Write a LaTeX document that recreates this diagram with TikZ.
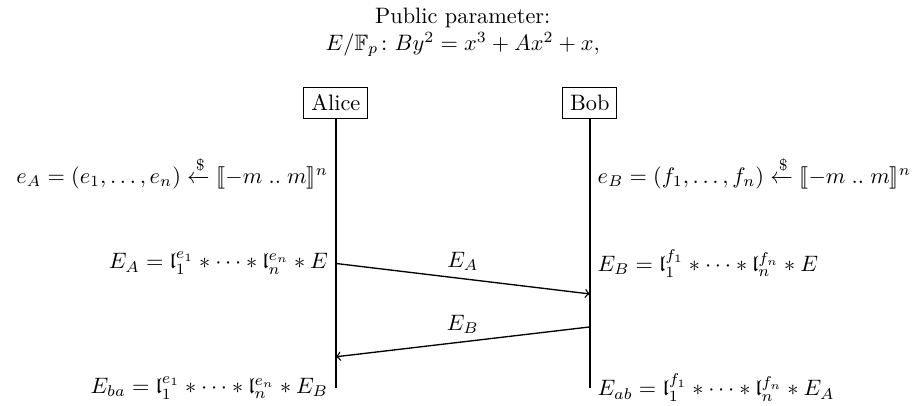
\documentclass[tikz,border=0pt]{standalone}
\usepackage{amsmath,amssymb}
\usepackage{stmaryrd}
\usepackage{tikz}
\usetikzlibrary{positioning}

\begin{document}
\begin{tikzpicture}[
  party/.style={draw, thin, inner sep=3.33pt},
  lifeline/.style={thick},
  msg/.style={semithick, ->},
  lhs/.style={anchor=east},
  rhs/.style={anchor=west}
]
\useasboundingbox (0,0) rectangle (14.46,-6.39);
\node[align=center] (pub) at (7.29,-0.51) {Public parameter:\\ $E/\mathbb{F}_p\colon By^2 = x^3 + Ax^2 + x,$};
\node[party] (alice) at (5.29,-1.62) {Alice};
\node[party] (bob) at (9.29,-1.62) {Bob};
\coordinate (aend) at (alice |- 0,-6.11);
\coordinate (bend) at (bob |- 0,-6.11);
\draw[lifeline] (alice) -- (aend);
\draw[lifeline] (bob) -- (bend);
% secret exponents
\node[lhs] (ea) at (alice |- 0,-2.72) {$e_A = (e_1,\ldots,e_n) \xleftarrow{\$} \llbracket -m \mathrel{..} m\rrbracket^n$};
\node[rhs] (eb) at (bob |- 0,-2.72) {$e_B = (f_1,\ldots,f_n) \xleftarrow{\$} \llbracket -m \mathrel{..} m\rrbracket^n$};
% public keys
\node[lhs] (pka) at (alice |- 0,-4.15) {$E_A = \mathfrak{l}_1^{e_1} * \cdots * \mathfrak{l}_n^{e_n} * E$};
\node[rhs] (pkb) at (bob |- 0,-4.15) {$E_B = \mathfrak{l}_1^{f_1} * \cdots * \mathfrak{l}_n^{f_n} * E$};
% shared secret
\node[lhs] (ssa) at (aend) {$E_{ba} = \mathfrak{l}_1^{e_1} * \cdots * \mathfrak{l}_n^{e_n} * E_B$};
\node[rhs] (ssb) at (bend) {$E_{ab} = \mathfrak{l}_1^{f_1} * \cdots * \mathfrak{l}_n^{f_n} * E_A$};
\coordinate (recva) at (bob |- 0,-4.63);
\coordinate (sendb) at (bob |- 0,-5.15);
\coordinate (recvb) at (alice |- 0,-5.62);
\draw[msg] (pka.east) -- node[above] {$E_A$} (recva);
\draw[msg] (sendb) -- node[above] {$E_B$} (recvb);
\end{tikzpicture}
\end{document}
